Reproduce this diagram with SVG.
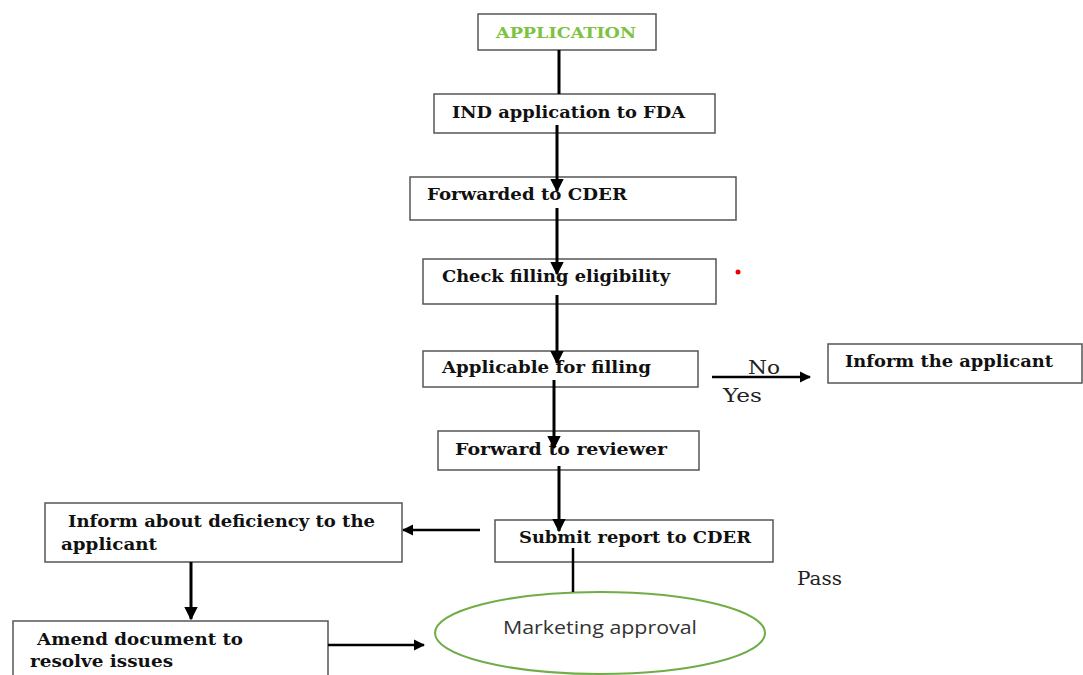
<svg xmlns="http://www.w3.org/2000/svg" width="1083" height="675" viewBox="0 0 1083 675">
<style>
.box{fill:#fff;stroke:#555;stroke-width:1.5}
.t{font-family:"DejaVu Serif","Liberation Serif",serif;font-weight:bold;font-size:17.5px;fill:#111}
.n{font-family:"DejaVu Serif","Liberation Serif",serif;font-size:18px;fill:#222}
.c{stroke:#000;stroke-width:3;fill:none}
</style>
<defs>
<marker id="ah" viewBox="0 0 10 10" refX="9" refY="5" markerWidth="4.5" markerHeight="4.5" orient="auto" markerUnits="strokeWidth">
<path d="M0,0 L10,5 L0,10 z" fill="#000"/>
</marker>
</defs>
<rect width="1083" height="675" fill="#fff"/>
<g id="n-application"><rect class="box" x="478" y="14" width="178" height="36"/><text class="t" x="496" y="38" textLength="140" lengthAdjust="spacingAndGlyphs" style="fill:#7dc241;font-size:15.5px">APPLICATION</text></g>
<g id="n-ind"><rect class="box" x="434" y="94" width="281" height="39"/><text class="t" x="452" y="118" textLength="233" lengthAdjust="spacingAndGlyphs">IND application to FDA</text></g>
<g id="n-forwarded"><rect class="box" x="410" y="177" width="326" height="43"/><text class="t" x="427" y="200" textLength="200" lengthAdjust="spacingAndGlyphs">Forwarded to CDER</text></g>
<g id="n-check"><rect class="box" x="423" y="259" width="293" height="45"/><text class="t" x="442" y="282" textLength="228" lengthAdjust="spacingAndGlyphs">Check filling eligibility</text></g>
<g id="n-applicable"><rect class="box" x="423" y="351" width="275" height="36"/><text class="t" x="442" y="373" textLength="209" lengthAdjust="spacingAndGlyphs">Applicable for filling</text></g>
<g id="n-inform-applicant"><rect class="box" x="828" y="344" width="254" height="39"/><text class="t" x="845" y="367" textLength="208" lengthAdjust="spacingAndGlyphs">Inform the applicant</text></g>
<g id="n-reviewer"><rect class="box" x="438" y="431" width="261" height="39"/><text class="t" x="455" y="455" textLength="212" lengthAdjust="spacingAndGlyphs">Forward to reviewer</text></g>
<g id="n-submit"><rect class="box" x="495" y="520" width="278" height="42"/><text class="t" x="519" y="543" textLength="232" lengthAdjust="spacingAndGlyphs">Submit report to CDER</text></g>
<g id="n-deficiency"><rect class="box" x="45" y="503" width="357" height="59"/><text class="t" x="68" y="527" textLength="307" lengthAdjust="spacingAndGlyphs">Inform about deficiency to the</text><text class="t" x="61" y="550" textLength="96" lengthAdjust="spacingAndGlyphs">applicant</text></g>
<g id="n-amend"><rect class="box" x="13" y="621" width="315" height="70"/><text class="t" x="37" y="645" textLength="206" lengthAdjust="spacingAndGlyphs">Amend document to</text><text class="t" x="30" y="667" textLength="143" lengthAdjust="spacingAndGlyphs">resolve issues</text></g>
<g id="n-marketing"><ellipse cx="600" cy="633" rx="165" ry="41" fill="#fff" stroke="#70ad47" stroke-width="2"/><text x="503" y="634" textLength="194" lengthAdjust="spacingAndGlyphs" style="font-family:'Open Sans','Liberation Sans',sans-serif;font-size:18px;fill:#333">Marketing approval</text></g>
<g id="connectors">
<line class="c" x1="559" y1="50" x2="559" y2="94"/>
<line class="c" x1="557" y1="125" x2="557" y2="191" marker-end="url(#ah)"/>
<line class="c" x1="557" y1="208" x2="557" y2="274" marker-end="url(#ah)"/>
<line class="c" x1="557" y1="295" x2="557" y2="363" marker-end="url(#ah)"/>
<line class="c" x1="554" y1="380" x2="554" y2="448" marker-end="url(#ah)"/>
<line class="c" x1="559" y1="466" x2="559" y2="531" marker-end="url(#ah)"/>
<line class="c" x1="712" y1="377" x2="810" y2="377" marker-end="url(#ah)" style="stroke-width:2.5"/>
<line class="c" x1="480" y1="530" x2="403" y2="530" marker-end="url(#ah)" style="stroke-width:2.5"/>
<line class="c" x1="191" y1="562" x2="191" y2="619" marker-end="url(#ah)"/>
<line class="c" x1="328" y1="645" x2="424" y2="645" marker-end="url(#ah)" style="stroke-width:2.5"/>
<line class="c" x1="573" y1="548" x2="573" y2="592" style="stroke-width:2.5"/>
</g>
<text class="n" x="748" y="374" textLength="32" lengthAdjust="spacingAndGlyphs">No</text>
<text class="n" x="723" y="402" textLength="39" lengthAdjust="spacingAndGlyphs">Yes</text>
<text class="n" x="797" y="585" textLength="45" lengthAdjust="spacingAndGlyphs">Pass</text>
<circle cx="738" cy="272" r="2.5" fill="#e00"/>
</svg>
